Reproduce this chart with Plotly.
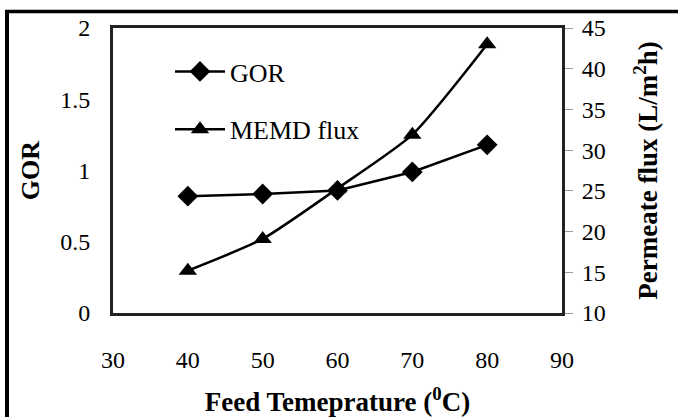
import plotly.graph_objects as go

temps = [40, 50, 60, 70, 80]
gor = [0.82, 0.835, 0.86, 0.99, 1.18]
flux = [15.2, 19.1, 25.3, 31.9, 43.0]

FONT = "Liberation Serif"

fig = go.Figure()
fig.add_trace(go.Scatter(
    x=temps, y=gor, name="GOR", mode="lines+markers",
    line=dict(color="black", width=2.5),
    marker=dict(symbol="diamond", size=16, color="black"),
    legendgroup="a", yaxis="y"))
fig.add_trace(go.Scatter(
    x=temps, y=flux, name="MEMD flux", mode="lines+markers",
    line=dict(color="black", width=2.5, shape="spline", smoothing=0.6),
    marker=dict(symbol="triangle-up", size=16, color="black"),
    legendgroup="b", yaxis="y2"))

W, H = 678, 417
L, R, T, B = 113, 116, 28, 104
pw = W - L - R
ph = H - T - B

def px(x):
    return (x - L) / pw

def py(y):
    return (H - B - y) / ph

fig.update_layout(
    width=W, height=H, autosize=False,
    margin=dict(l=L, r=R, t=T, b=B, pad=0, autoexpand=False),
    paper_bgcolor="white", plot_bgcolor="white",
    font=dict(family=FONT, size=24, color="black"),
    showlegend=True,
    legend=dict(x=px(170), y=py(48), xanchor="left", yanchor="top",
                bgcolor="rgba(0,0,0,0)", tracegroupgap=21,
                itemwidth=50, font=dict(family=FONT, size=26)),
    xaxis=dict(range=[30, 90], tickvals=[30, 40, 50, 60, 70, 80, 90],
               showgrid=False, zeroline=False, automargin=False,
               showline=True, mirror=True, linecolor="#222", linewidth=3,
               ticks="", ticklabelstandoff=23,
               tickfont=dict(family=FONT, size=24),
               title=dict(text="<b>Feed Temeprature (<sup>0</sup>C)</b>",
                          font=dict(family=FONT, size=27), standoff=24)),
    yaxis=dict(range=[0, 2], tickvals=[0, 0.5, 1, 1.5, 2],
               ticktext=["0", "0.5", "1", "1.5", "2"],
               showgrid=False, zeroline=False, automargin=False,
               showline=True, linecolor="#222", linewidth=3,
               ticks="", ticklabelstandoff=15,
               tickfont=dict(family=FONT, size=24),
               title=dict(text="<b>GOR</b>", font=dict(family=FONT, size=26),
                          standoff=14)),
    yaxis2=dict(range=[10, 45], tickvals=[10, 15, 20, 25, 30, 35, 40, 45],
                overlaying="y", side="right",
                showgrid=False, zeroline=False, automargin=False,
                showline=True, linecolor="#222", linewidth=3,
                ticks="outside", ticklen=8, tickcolor="#999", tickwidth=1,
                ticklabelstandoff=4,
                tickfont=dict(family=FONT, size=24),
                title=dict(text="<b>Permeate flux (L/m<sup>2</sup>h)</b>",
                           font=dict(family=FONT, size=27), standoff=34)),
    shapes=[
        dict(type="line", xref="paper", yref="paper",
             x0=px(5), x1=px(678), y0=py(11.5), y1=py(11.5),
             line=dict(color="black", width=3.5)),
        dict(type="line", xref="paper", yref="paper",
             x0=px(7), x1=px(7), y0=py(10), y1=py(417),
             line=dict(color="black", width=4)),
    ],
)

fig.write_html("out.html", config={"displayModeBar": False},
               post_script="document.body.style.margin='0px';")
